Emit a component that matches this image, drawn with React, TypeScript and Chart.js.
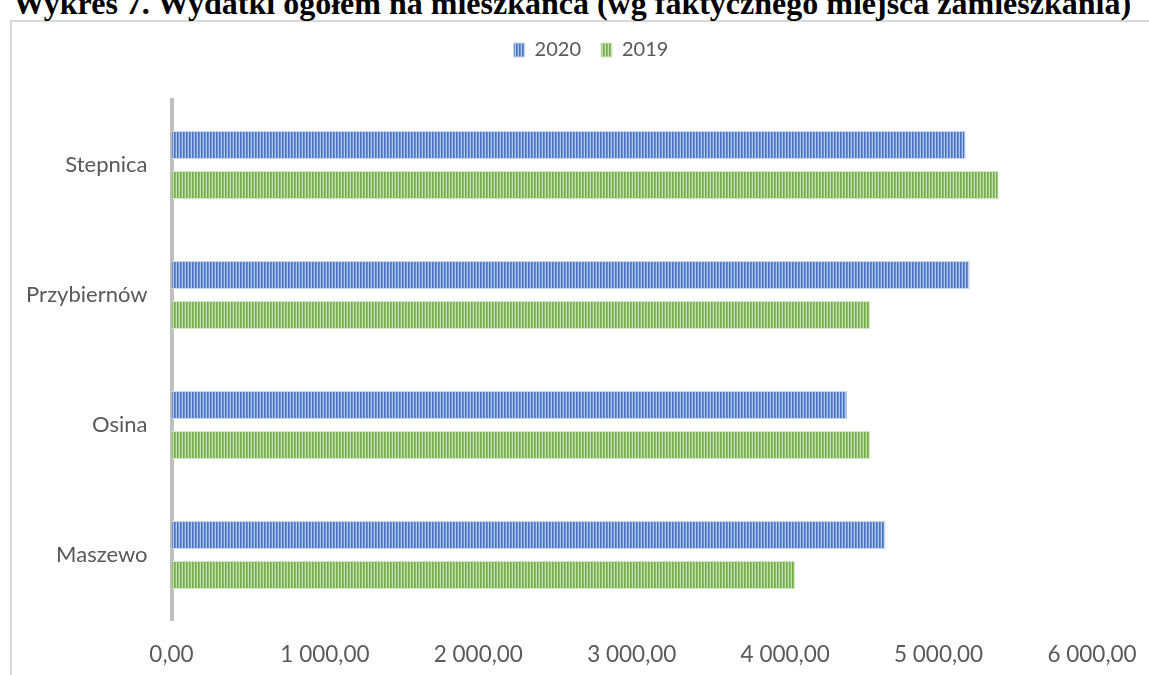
import React, { useEffect, useRef } from 'react';
import { Chart, registerables } from 'chart.js';

Chart.register(...registerables);

const titleText = 'Wykres 7. Wydatki ogółem na mieszkańca (wg faktycznego miejsca zamieszkania)';
const categories = ['Stepnica', 'Przybiernów', 'Osina', 'Maszewo'];
const seriesNames = ['2020', '2019'];
const values2020 = [5176, 5203, 4405, 4654];
const values2019 = [5392, 4556, 4556, 4065];
const xTickLabels = ['0,00', '1 000,00', '2 000,00', '3 000,00', '4 000,00', '5 000,00', '6 000,00'];

const blueStripes = ['#4472c4', '#6f91d3', '#b3c6ec'];
const greenStripes = ['#70ad47', '#8fc069', '#c6e0b3'];

const FONT = 'Lato';
const TEXT = '#595959';

function makePattern(target: CanvasRenderingContext2D, colors: string[]) {
  const c = document.createElement('canvas');
  c.width = colors.length;
  c.height = 1;
  const cx = c.getContext('2d')!;
  colors.forEach((col, i) => {
    cx.fillStyle = col;
    cx.fillRect(i, 0, 1, 1);
  });
  return target.createPattern(c, 'repeat')!;
}

// shifts the legend's horizontal span so it is centred where the original one is
const legendSpan = {
  id: 'legendSpan',
  afterLayout(chart: any) {
    if (chart.legend) {
      chart.legend.left = 90;
      chart.legend.width = chart.legend.right - chart.legend.left;
    }
  },
};

export default function App() {
  const ref = useRef<HTMLCanvasElement | null>(null);

  useEffect(() => {
    const canvas = ref.current!;
    const ctx = canvas.getContext('2d')!;
    const bluePat = makePattern(ctx, blueStripes);
    const greenPat = makePattern(ctx, greenStripes);

    const chart = new Chart(ctx, {
      type: 'bar',
      data: {
        labels: categories,
        datasets: [
          {
            label: seriesNames[0],
            data: values2020,
            backgroundColor: bluePat,
            borderColor: '#c9d6ef',
            borderWidth: 1,
            categoryPercentage: 0.6154,
            barPercentage: 0.7,
          },
          {
            label: seriesNames[1],
            data: values2019,
            backgroundColor: greenPat,
            borderColor: '#d3e8c4',
            borderWidth: 1,
            categoryPercentage: 0.6154,
            barPercentage: 0.7,
          },
        ],
      },
      options: {
        indexAxis: 'y',
        responsive: false,
        animation: false,
        layout: { padding: { left: 0, right: 57, top: 20, bottom: 0 } },
        plugins: {
          legend: {
            position: 'top',
            labels: {
              boxWidth: 11,
              boxHeight: 14,
              padding: 20,
              color: TEXT,
              font: { family: FONT, size: 20 },
            },
          },
          title: {
            display: true,
            text: '',
            weight: 500,
            padding: { top: 28.8, bottom: 0 },
            font: { size: 1 },
          },
          tooltip: { enabled: false },
        },
        scales: {
          x: {
            min: 0,
            max: 6000,
            ticks: {
              stepSize: 1000,
              autoSkip: false,
              maxRotation: 0,
              color: TEXT,
              font: { family: FONT, size: 22.5 },
              padding: 0,
              callback: (_v: any, i: number) => xTickLabels[i],
            },
            grid: { display: false, drawTicks: true, tickLength: 21 },
            border: { display: false },
            afterFit: (s: any) => {
              s.height = 55;
            },
          },
          y: {
            z: 1,
            ticks: {
              color: TEXT,
              font: { family: FONT, size: 22 },
              padding: 24,
            },
            grid: { display: false, drawTicks: false },
            border: { display: true, color: '#bfbfbf', width: 4 },
            afterFit: (s: any) => {
              s.width = 171.5;
            },
          },
        },
      },
      plugins: [legendSpan],
    } as any);
    return () => chart.destroy();
  }, []);

  return (
    <div style={{ position: 'fixed', left: 0, top: 0, width: 1149, height: 675, overflow: 'hidden', background: '#fff' }}>
      <div
        style={{
          position: 'absolute',
          left: 10,
          top: 20,
          width: 1300,
          height: 800,
          border: '2px solid #d9d9d9',
          boxSizing: 'border-box',
        }}
      />
      <div
        style={{
          position: 'absolute',
          left: 0,
          top: -13,
          width: 1144,
          textAlign: 'center',
          fontFamily: '"Liberation Serif", serif',
          fontWeight: 'bold',
          fontSize: 32,
          lineHeight: '32px',
          whiteSpace: 'nowrap',
          color: '#000',
        }}
      >
        {titleText}
      </div>
      <canvas ref={ref} width={1149} height={675} style={{ position: 'absolute', left: 0, top: 0, width: 1149, height: 675 }} />
    </div>
  );
}
